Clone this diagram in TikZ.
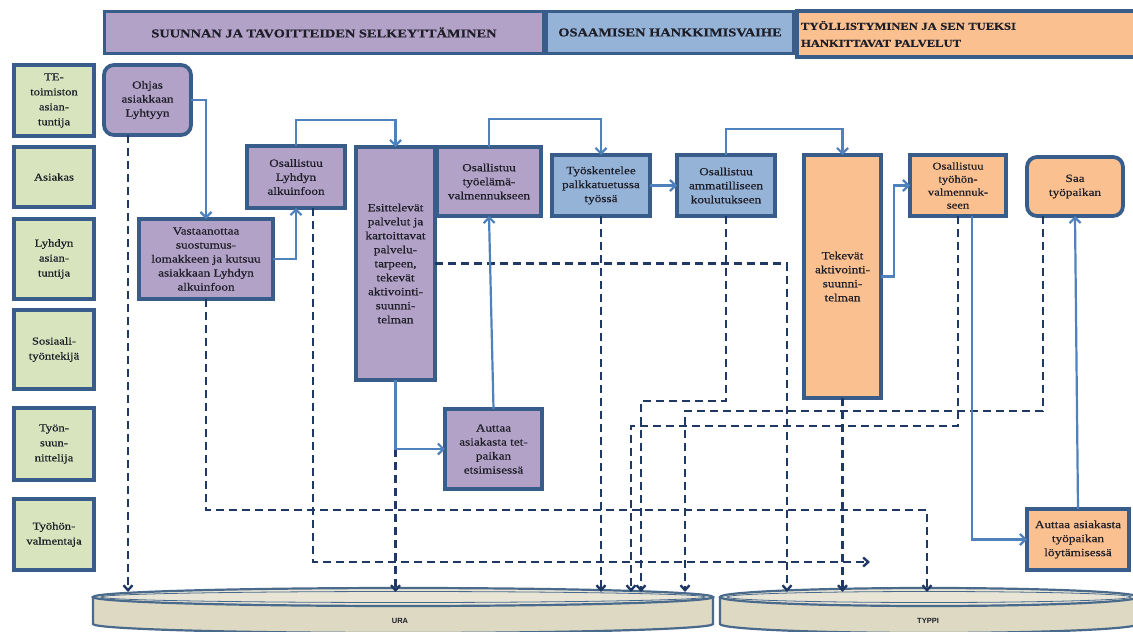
\documentclass[tikz,border=0pt]{standalone}
\usepackage{fontspec}
\setmainfont[FakeStretch=1.2,FakeBold=0.5]{Liberation Serif}
\newfontfamily\lsans{Liberation Sans}
\usetikzlibrary{arrows.meta,calc}
\definecolor{bord}{HTML}{385D8A}
\definecolor{purp}{HTML}{B3A2C7}
\definecolor{bluf}{HTML}{95B3D7}
\definecolor{oran}{HTML}{FAC090}
\definecolor{gren}{HTML}{D7E4BD}
\definecolor{solidc}{HTML}{4F81BD}
\definecolor{dashc}{HTML}{1F3864}
\definecolor{cylf}{HTML}{DDD9C3}
\definecolor{cyltop}{HTML}{E8E5D6}
\definecolor{cylb}{HTML}{4A6A8C}
\definecolor{txt}{HTML}{1E1E28}
\tikzset{
 procbox/.style={draw=bord, line width=3.8pt, inner sep=1pt, outer sep=0pt, align=center, text=txt, font=\fontsize{11}{14}\selectfont},
 pbox/.style={procbox, fill=purp},
 bbox/.style={procbox, fill=bluf},
 obox/.style={procbox, fill=oran},
 gbox/.style={procbox, fill=gren, minimum width=80, font=\fontsize{10.5}{15}\selectfont},
 sol/.style={draw=solidc, line width=2.2pt, -{Straight Barb[length=5.5pt,width=11pt]}},
 dsh/.style={draw=dashc, line width=2.4pt, dash pattern=on 8pt off 5pt, -{Straight Barb[length=5pt,width=9pt]}},
 hdr/.style={draw=bord, line width=3pt, outer sep=0pt, text=txt, font=\fontsize{12}{14}\selectfont\bfseries},
 cyl/.style={fill=cylf, draw=cylb, line width=2pt},
 cyllabel/.style={text=txt, font=\fontsize{7.5}{9}\lsans\bfseries}
}
\begin{document}
\begin{tikzpicture}[x=1pt,y=-1pt]
\useasboundingbox (0,0) rectangle (1133,632);

% header
\node[hdr, fill=purp, minimum width=439, minimum height=42] (h1) at (324,32.5) {SUUNNAN JA TAVOITTEIDEN SELKEYTTÄMINEN};
\node[hdr, fill=bluf, minimum width=247, minimum height=42] (h2) at (670,32.5) {OSAAMISEN HANKKIMISVAIHE};
\node[hdr, fill=oran, line width=4pt, minimum width=338, minimum height=46, text width=330, inner xsep=4pt, align=left, font=\fontsize{10.5}{17}\selectfont\bfseries] (h3) at (966,34) {TYÖLLISTYMINEN JA SEN TUEKSI\\HANKITTAVAT PALVELUT};

% left column
\node[gbox, minimum height=71] (g1) at (54,100.5) {TE-\\toimiston\\asian-\\tuntija};
\node[gbox, minimum height=60] (g2) at (54,177) {Asiakas};
\node[gbox, minimum height=80] (g3) at (54,259) {Lyhdyn\\asian-\\tuntija};
\node[gbox, minimum height=79] (g4) at (54,349.5) {Sosiaali-\\työntekijä};
\node[gbox, minimum height=72] (g5) at (54,444) {Työn-\\suun-\\nittelija};
\node[gbox, minimum height=71] (g6) at (54,534.5) {Työhön-\\valmentaja};

% process boxes
\node[pbox, rounded corners=10pt, minimum width=87, minimum height=70] (ohjas) at (147.5,100) {Ohjas\\asiakkaan\\Lyhtyyn};
\node[pbox, minimum width=134, minimum height=80] (vast) at (206,259) {Vastaanottaa\\suostumus-\\lomakkeen ja kutsuu\\asiakkaan Lyhdyn\\alkuinfoon};
\node[pbox, minimum width=98, minimum height=62] (alku) at (296,177) {Osallistuu\\Lyhdyn\\alkuinfoon};
\node[pbox, minimum width=79, minimum height=233] (esit) at (395.5,263.5) {Esittelevät\\palvelut ja\\kartoittavat\\palvelu-\\tarpeen,\\tekevät\\aktivointi-\\suunni-\\telman};
\node[pbox, minimum width=104, minimum height=69] (tyoel) at (489,181.5) {Osallistuu\\työelämä-\\valmennukseen};
\node[bbox, minimum width=98, minimum height=61] (palk) at (601,185.5) {Työskentelee\\palkkatuetussa\\työssä};
\node[bbox, minimum width=98, minimum height=61] (amm) at (726,185.5) {Osallistuu\\ammatilliseen\\koulutukseen};
\node[obox, minimum width=77, minimum height=243] (tekev) at (842.5,276.5) {Tekevät\\aktivointi-\\suunni-\\telman};
\node[obox, minimum width=96, minimum height=61, font=\fontsize{10.5}{13}\selectfont] (tyohon) at (958,185.5) {Osallistuu\\työhön-\\valmennuk-\\seen};
\node[obox, rounded corners=10pt, minimum width=96, minimum height=59] (saa) at (1075,186.5) {Saa\\työpaikan};
\node[pbox, minimum width=97, minimum height=80] (tet) at (493.5,449) {Auttaa\\asiakasta tet-\\paikan\\etsimisessä};
\node[obox, minimum width=102, minimum height=61] (loyt) at (1078,539.5) {Auttaa asiakasta\\työpaikan\\löytämisessä};

% cylinders
\begin{scope}
\clip (0,0) rectangle (1133,632);
\fill[cylf] (93,597) rectangle (713,624);
\fill[cylf] (403,624) ellipse [x radius=310, y radius=9];
\draw[cylb, line width=2.2pt] (93,597) -- (93,624) arc[start angle=180, end angle=0, x radius=310, y radius=9] -- (713,597);
\filldraw[fill=cyltop, draw=cylb, line width=2.2pt] (403,597) ellipse [x radius=310, y radius=9];
\draw[cylb, line width=0.8pt] (403,597) ellipse [x radius=302, y radius=5.5];
\fill[cylf] (720,597) rectangle (1138,624);
\fill[cylf] (929,624) ellipse [x radius=209, y radius=9];
\draw[cylb, line width=2.2pt] (720,597) -- (720,624) arc[start angle=180, end angle=0, x radius=209, y radius=9] -- (1138,597);
\filldraw[fill=cyltop, draw=cylb, line width=2.2pt] (929,597) ellipse [x radius=209, y radius=9];
\draw[cylb, line width=0.8pt] (929,597) ellipse [x radius=202, y radius=5.5];
\end{scope}
\node[cyllabel] (ura) at (400,621) {URA};
\node[cyllabel] (typpi) at (928,621) {TYPPI};

% arrow targets on cylinders
\coordinate (u1) at (128,592);
\coordinate (u2) at (395.5,592);
\coordinate (u3) at (601,592);
\coordinate (u4) at (631,592);
\coordinate (u5) at (641,592);
\coordinate (u6) at (685,592);
\coordinate (t1) at (787,592);
\coordinate (t2) at (842.5,592);
\coordinate (t3) at (927,592);
\coordinate (o1) at (870,562);

% dashed connectors
\draw[dsh] ($(ohjas.south)+(-19.5,0)$) -- (u1);
\draw[dsh] (vast.south) -- ++(0,211) -| (t3);
\draw[dsh] ($(alku.south)+(17,0)$) |- (o1);
\draw[dsh] (esit.east) -| (t1);
\draw[dsh] (esit.south |- tet.west) -- (u2);
\draw[dsh] (palk.south) -- (u3);
\draw[dsh] (amm.south) -- ++(0,185) -| (u5);
\draw[dsh] (tyohon.south) -- ++(0,210) -| (u4);
\draw[dsh] ($(saa.south)+(-32,0)$) -- ++(0,195) -| (u6);
\draw[dsh] (tekev.south) -- (t2);

% solid connectors
\draw[sol] (ohjas.east) -| (vast.north);
\draw[sol] (vast.east) -| (alku.south);
\draw[sol] (alku.north) -- ++(0,-26) -| (esit.north);
\draw[sol] (esit.south) |- (tet.west);
\draw[sol] (tet.north) -- (tyoel.south);
\draw[sol] (tyoel.north) -- ++(0,-28) -| (palk.north);
\draw[sol] (palk.east) -- (amm.west);
\draw[sol] (amm.north) -- ++(0,-26) -| (tekev.north);
\draw[sol] (tekev.east) -- ++(13,0) |- (tyohon.west);
\draw[sol] ($(tyohon.south)+(14,0)$) |- (loyt.west);
\draw[sol] (loyt.north) -- (saa.south);
\end{tikzpicture}
\end{document}
